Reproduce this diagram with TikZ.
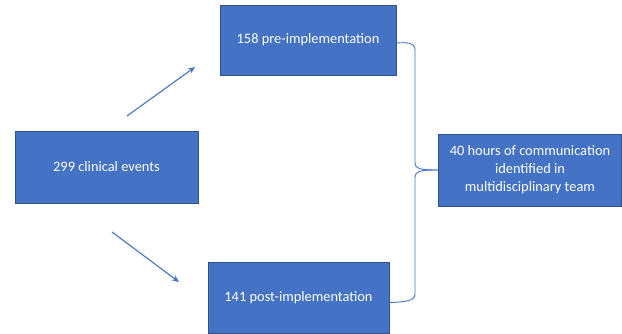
\documentclass[tikz,border=0pt]{standalone}
\usepackage{fontspec}
\setmainfont{Carlito}
\usepackage{tikz}
\usetikzlibrary{arrows.meta}

\definecolor{boxblue}{HTML}{4472C4}
\definecolor{boxedge}{HTML}{2F528F}

\tikzset{
  stage/.style={draw=boxedge,line width=0.8pt,fill=boxblue,text=white,
    align=center,inner sep=2pt,font=\fontsize{14.4}{18}\selectfont},
  flow/.style={draw=boxblue,line width=1.1pt,-{Stealth[length=7pt,width=6pt]}},
  brace/.style={draw=boxblue,line width=0.9pt}
}

\begin{document}
\begin{tikzpicture}[x=1pt,y=-1pt]
          \useasboundingbox (0,0) rectangle (622,333);
          \node[stage,minimum width=183pt,minimum height=72pt] (events) at (106.5,167) {299 clinical events};
          \node[stage,minimum width=176pt,minimum height=70pt] (pre) at (308,40) {158 pre-implementation};
          \node[stage,minimum width=181pt,minimum height=71pt] (post) at (298.5,297.5) {141 post-implementation};
          \node[stage,minimum width=183pt,minimum height=72pt] (comm) at (530,170) {40 hours of communication\\identified in\\multidisciplinary team};
          \coordinate (upstart) at (127,116);
          \coordinate (upend) at (195,67);
          \coordinate (downstart) at (112,232);
          \coordinate (downend) at (179,282);
          \draw[flow] (upstart) -- (upend);
          \draw[flow] (downstart) -- (downend);
          \draw[brace] ([yshift=-3pt]pre.east) .. controls (408,42) and (415,43) .. (415,50)
            -- (415,162) .. controls (415,169) and (420,170) .. (comm.west);
          \draw[brace] (comm.west) .. controls (420,170) and (415,171) .. (415,178)
            -- (415,294) .. controls (415,301) and (405,302) .. ([yshift=-5pt]post.east);
        \end{tikzpicture}
\end{document}
